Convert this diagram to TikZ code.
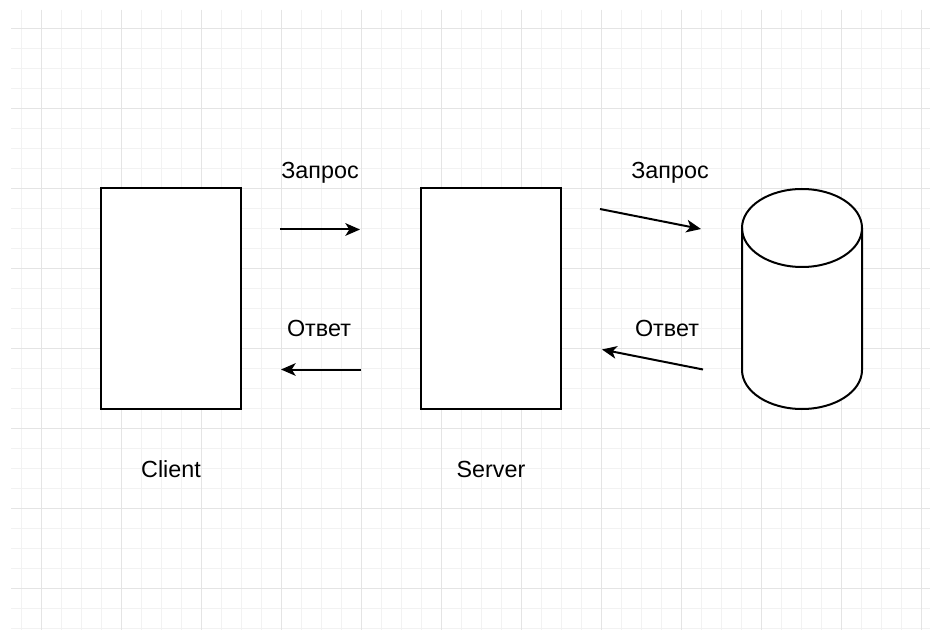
\documentclass[tikz,border=0pt]{standalone}
\usepackage{fontspec}
\setmainfont{Liberation Sans}
\usetikzlibrary{arrows.meta}
\definecolor{gridminor}{HTML}{F2F2F2}
\definecolor{gridmajor}{HTML}{E4E4E4}
\tikzset{
  minorline/.style={gridminor, line width=0.75pt},
  majorline/.style={gridmajor, line width=0.75pt},
  box/.style={draw=black, fill=white, line width=1.5pt, minimum width=105pt, minimum height=165pt, inner sep=0pt},
  lbl/.style={anchor=base, inner sep=0pt, font=\fontsize{17.5pt}{21pt}\selectfont},
  conn/.style={line width=1.5pt, -{Stealth[length=11pt, width=9.5pt, inset=3pt]}},
}
\begin{document}
\begin{tikzpicture}[x=0.75pt, y=-0.75pt]
\useasboundingbox (0,0) rectangle (930,630);
\fill[white] (0,0) rectangle (930,630);
% grid
\foreach \x in {21.5,41.5,...,921.5} \draw[minorline] (\x,10) -- (\x,630);
\foreach \y in {28.5,48.5,...,628.5} \draw[minorline] (11,\y) -- (930,\y);
\foreach \x in {41.5,121.5,...,921.5} \draw[majorline] (\x,10) -- (\x,630);
\foreach \y in {28.5,108.5,...,588.5} \draw[majorline] (11,\y) -- (930,\y);

% boxes
\node[box] (client) at (170.5,298.5) {};
\node[box] (server) at (490.5,298.5) {};

% database cylinder
\node[minimum width=90pt, minimum height=165pt, inner sep=0pt] (db) at (802,299) {};
\draw[line width=1.5pt, fill=white] (742,228) -- (742,370) arc[start angle=180, end angle=360, x radius=45pt, y radius=29.25pt] -- (862,228) arc[start angle=0, end angle=180, x radius=45pt, y radius=29.25pt] -- cycle;
\draw[line width=1.5pt] (742,228) arc[start angle=180, end angle=360, x radius=45pt, y radius=29.25pt];

% labels
\node[lbl] (q1) at (320,179) {Запрос};
\node[lbl] (q2) at (670,179) {Запрос};
\node[lbl] (a1) at (319,337) {Ответ};
\node[lbl] (a2) at (667,337) {Ответ};
\node[lbl] (cl) at (171,477) {Client};
\node[lbl] (sv) at (491,477) {Server};

% arrow end points
\coordinate (r1s) at (280,229.5);
\coordinate (r1e) at (360,229.5);
\coordinate (s1s) at (361,369.5);
\coordinate (s1e) at (281,369.5);
\coordinate (r2s) at (600,209);
\coordinate (r2e) at (701,229);
\coordinate (s2s) at (703,369.5);
\coordinate (s2e) at (602,349.5);

\draw[conn] (r1s) -- (r1e);
\draw[conn] (s1s) -- (s1e);
\draw[conn] (r2s) -- (r2e);
\draw[conn] (s2s) -- (s2e);
\end{tikzpicture}
\end{document}
